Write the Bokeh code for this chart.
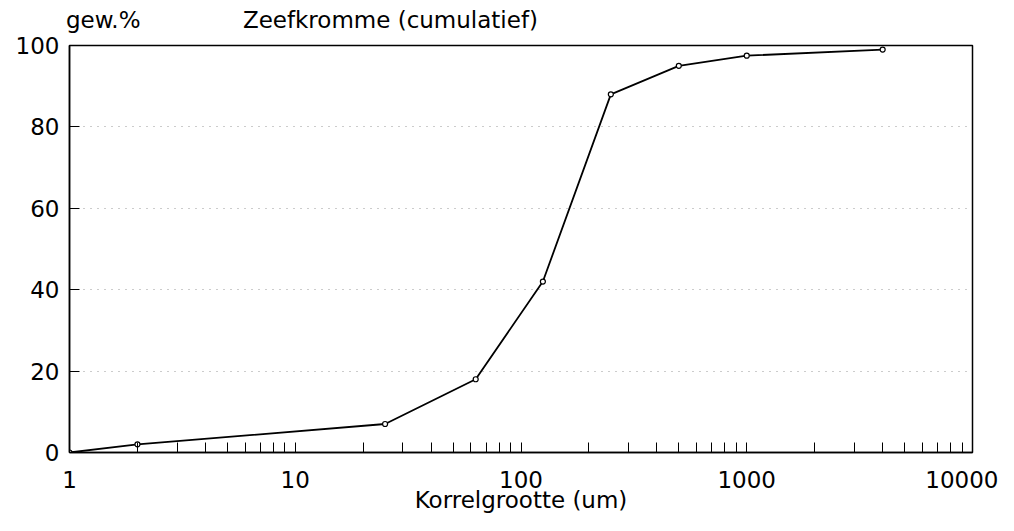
from bokeh.plotting import figure
from bokeh.models import FixedTicker, LogAxis, NumeralTickFormatter, Range1d
from bokeh.embed import file_html
from bokeh.resources import INLINE

# Data
grain_size_um = [1, 2, 25, 63, 125, 250, 500, 1000, 4000]
cumulative_pct = [0, 2, 7, 18, 42, 88, 95, 97.5, 99]

x_major_ticks = [1, 10, 100, 1000, 10000]
y_ticks = [0, 20, 40, 60, 80, 100]

title_text = "Zeefkromme (cumulatief)"
y_label_text = "gew.%"
x_label_text = "Korrelgrootte (um)"

FONT = "DejaVu Sans"
FS = "23px"

p = figure(width=998, height=515, x_axis_type="log",
           x_range=Range1d(1, 10000), y_range=Range1d(0, 100),
           output_backend="svg", toolbar_location=None,
           min_border_left=69, min_border_right=26,
           min_border_top=45, min_border_bottom=0)

p.background_fill_color = "white"
p.border_fill_color = "white"
p.outline_line_color = "black"
p.outline_line_width = 1.5

minor = [m * d for d in x_major_ticks[:-1] for m in range(2, 10)]
p.xaxis.ticker = FixedTicker(ticks=x_major_ticks, minor_ticks=minor)
p.xaxis.formatter = NumeralTickFormatter(format="0")
p.yaxis.ticker = FixedTicker(ticks=y_ticks)

for ax in (p.xaxis, p.yaxis):
    ax.axis_line_color = "black"
    ax.axis_line_width = 1.5
    ax.major_tick_in = 10
    ax.major_tick_out = 0
    ax.minor_tick_in = 10
    ax.minor_tick_out = 0
    ax.major_tick_line_color = "black"
    ax.minor_tick_line_color = "black"
    ax.major_label_text_font = FONT
    ax.major_label_text_font_size = FS
    ax.major_label_text_color = "black"
p.yaxis.minor_tick_line_color = None
p.yaxis.major_label_standoff = 10
p.xaxis.major_label_standoff = 18

p.xaxis.axis_label = x_label_text
p.xaxis.axis_label_text_font = FONT
p.xaxis.axis_label_text_font_size = FS
p.xaxis.axis_label_text_font_style = "normal"
p.xaxis.axis_label_text_color = "black"
p.xaxis.axis_label_standoff = -4

# Header texts ("gew.%" and the title) drawn as labels of a bare top axis
gew_pos = 1.41
title_pos = 26.4
top_axis = LogAxis(ticker=FixedTicker(ticks=[gew_pos, title_pos]),
                   major_label_overrides={gew_pos: y_label_text,
                                          title_pos: title_text},
                   axis_line_color=None, major_tick_line_color=None,
                   minor_tick_line_color=None,
                   major_label_text_font=FONT,
                   major_label_text_font_size=FS,
                   major_label_text_color="black",
                   major_label_standoff=7)
p.add_layout(top_axis, "above")

p.xgrid.grid_line_color = None
p.ygrid.grid_line_color = "#999999"
p.ygrid.grid_line_dash = "1 6"
p.ygrid.grid_line_width = 1

p.line(grain_size_um, cumulative_pct, line_color="black", line_width=1.8)
p.scatter(grain_size_um, cumulative_pct, marker="circle", size=5,
          fill_color="white", line_color="black", line_width=1.2)

open("out.html", "w").write(file_html(p, INLINE))
